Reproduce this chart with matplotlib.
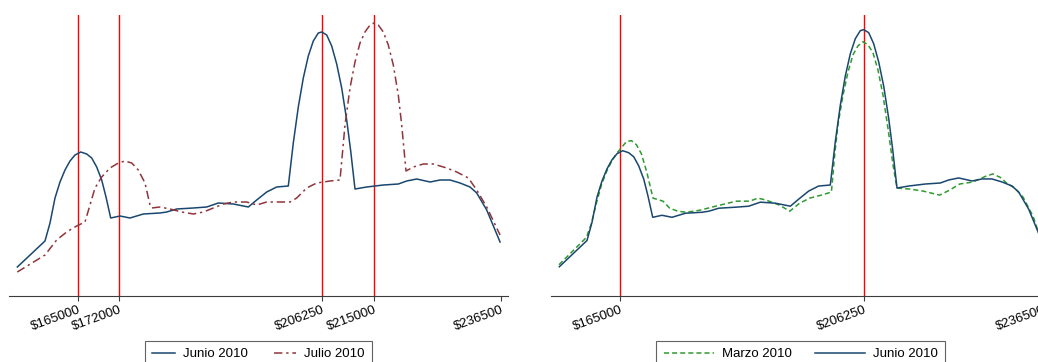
import numpy as np
import matplotlib
matplotlib.use("Agg")
import matplotlib.pyplot as plt

plt.rcParams["font.family"] = ["Liberation Sans", "DejaVu Sans"]

# -----------------------------
# data (kernel density, arbitrary units)
# -----------------------------
junio_x = [154746, 159422, 160268, 161113, 161958, 162803, 163648, 164493, 165456, 166470,
           167315, 168160, 169005, 169732, 170526, 172098, 173788, 176036, 178858, 179986,
           181677, 184494, 186747, 188719, 191254, 193790, 195198, 196888, 198579, 200541,
           201386, 202231, 203076, 203921, 204766, 205611, 206185, 207030, 207875, 208720,
           209565, 210410, 211086, 211813, 213790, 216607, 219143, 220551, 222241, 224495,
           226185, 227875, 229566, 231256, 232383, 234073, 236326]
junio_y = [0.29, 0.55, 0.73, 0.98, 1.14, 1.26, 1.35, 1.41, 1.44, 1.42,
           1.38, 1.29, 1.16, 0.99, 0.78, 0.80, 0.78, 0.82, 0.83, 0.84,
           0.87, 0.88, 0.89, 0.93, 0.92, 0.89, 0.96, 1.04, 1.09, 1.10,
           1.53, 1.89, 2.18, 2.40, 2.55, 2.63, 2.64, 2.61, 2.50, 2.32,
           2.08, 1.76, 1.45, 1.07, 1.09, 1.11, 1.12, 1.15, 1.17, 1.14,
           1.16, 1.16, 1.13, 1.09, 1.03, 0.86, 0.54]

julio_x = [154746, 159422, 161394, 163084, 164775, 166183, 167028, 167873, 169005, 170408,
           171811, 172943, 174075, 175191, 176323, 177168, 177455, 178860, 180550, 182522,
           184494, 186184, 187874, 189564, 191254, 193508, 195198, 196888, 199142, 200832,
           201959, 203649, 205339, 207593, 209278, 210123, 210968, 211813, 212658, 213503,
           214348, 215024, 215751, 216596, 217441, 218286, 219131, 219705, 220432, 221678,
           223368, 225058, 227312, 229002, 230974, 232383, 234073, 236326]
julio_y = [0.24, 0.41, 0.56, 0.64, 0.70, 0.74, 0.91, 1.08, 1.19, 1.28,
           1.33, 1.35, 1.33, 1.26, 1.13, 0.91, 0.88, 0.89, 0.87, 0.84,
           0.82, 0.84, 0.88, 0.92, 0.94, 0.94, 0.91, 0.94, 0.94, 0.94,
           0.98, 1.08, 1.13, 1.15, 1.16, 1.71, 2.08, 2.34, 2.53, 2.64,
           2.71, 2.73, 2.71, 2.64, 2.51, 2.31, 2.01, 1.71, 1.25, 1.29,
           1.32, 1.32, 1.28, 1.24, 1.18, 1.06, 0.89, 0.61]

marzo_x = [154690, 159322, 160167, 161012, 161857, 162702, 163547, 164392, 165237, 166082,
           166927, 167772, 168617, 169563, 170577, 172267, 173399, 174802, 176212, 178465,
           181846, 184663, 186916, 188325, 189733, 191987, 193677, 195367, 197057, 199029,
           200727, 201284, 201842, 202687, 203532, 204377, 205222, 206067, 206912, 207757,
           208602, 209447, 210292, 211137, 211813, 213959, 216213, 219030, 220720, 222410,
           224664, 226918, 228044, 229453, 230298, 231707, 233115, 234805, 236326]
marzo_y = [0.31, 0.58, 0.72, 0.92, 1.10, 1.23, 1.33, 1.41, 1.47, 1.53,
           1.54, 1.50, 1.41, 1.22, 0.97, 0.94, 0.87, 0.84, 0.83, 0.85,
           0.90, 0.94, 0.94, 0.97, 0.95, 0.90, 0.84, 0.92, 0.97, 1.00,
           1.03, 1.40, 1.70, 1.99, 2.22, 2.39, 2.48, 2.52, 2.49, 2.41,
           2.24, 1.99, 1.66, 1.30, 1.07, 1.06, 1.04, 1.00, 1.05, 1.11,
           1.13, 1.19, 1.21, 1.17, 1.12, 1.07, 0.98, 0.79, 0.53]

lines_left = [165000, 172000, 206250, 215000]
ticks_left = [165000, 172000, 206250, 215000, 236500]
lines_right = [165000, 206250]
ticks_right = [165000, 206250, 236500]

NAVY = "#1a476f"
MAROON = "#90353b"
GREEN = "#2e9a2e"

# -----------------------------
# figure
# -----------------------------
fig = plt.figure(figsize=(10.38, 3.62), dpi=100)
W, H = 1038.0, 362.0
ax1 = fig.add_axes([9 / W, (H - 296) / H, 499 / W, 281 / H])
ax2 = fig.add_axes([551 / W, (H - 296) / H, 499 / W, 281 / H])


def style(ax, ticks, vlines, ytop):
    for v in vlines:
        ax.axvline(v, color="red", lw=1.0, zorder=1)
    ax.set_xlim(153339, 237670)
    ax.set_ylim(0, ytop)
    for s in ["left", "right", "top"]:
        ax.spines[s].set_visible(False)
    ax.spines["bottom"].set_color("#3c3c3c")
    ax.spines["bottom"].set_linewidth(0.8)
    ax.set_yticks([])
    ax.set_xticks(ticks)
    ax.set_xticklabels(["$" + str(t) for t in ticks], rotation=20, ha="right",
                       va="top", rotation_mode="anchor", fontsize=9.5)
    ax.tick_params(axis="x", direction="out", length=3.6, width=0.8,
                   color="#3c3c3c", pad=2)
    ax.patch.set_alpha(0)


def add_legend(ax, hl, cs):
    leg = ax.legend(loc="upper center", bbox_to_anchor=(0.5, -45 / 281), ncol=2,
                    fontsize=9.5, frameon=True, fancybox=False, edgecolor="#3c3c3c",
                    handlelength=hl, handletextpad=0.6, columnspacing=cs,
                    borderpad=0.55, borderaxespad=0)
    leg.get_frame().set_linewidth(0.8)


# left panel
style(ax1, ticks_left, lines_left, 2.81)
ax1.plot(junio_x, junio_y, color=NAVY, lw=1.1, label="Junio 2010", zorder=3)
ax1.plot(julio_x, julio_y, color=MAROON, lw=1.1, dashes=(5.5, 2.5, 1.5, 2.5),
         label="Julio 2010", zorder=3)
add_legend(ax1, 1.7, 2.0)

# right panel
style(ax2, ticks_right, lines_right, 2.785)
ax2.plot(marzo_x, marzo_y, color=GREEN, lw=1.1, dashes=(3.3, 2.0),
         label="Marzo 2010", zorder=3)
ax2.plot(junio_x, junio_y, color=NAVY, lw=1.1, label="Junio 2010", zorder=3)
add_legend(ax2, 3.8, 1.75)

fig.savefig("out.png", dpi=100)
